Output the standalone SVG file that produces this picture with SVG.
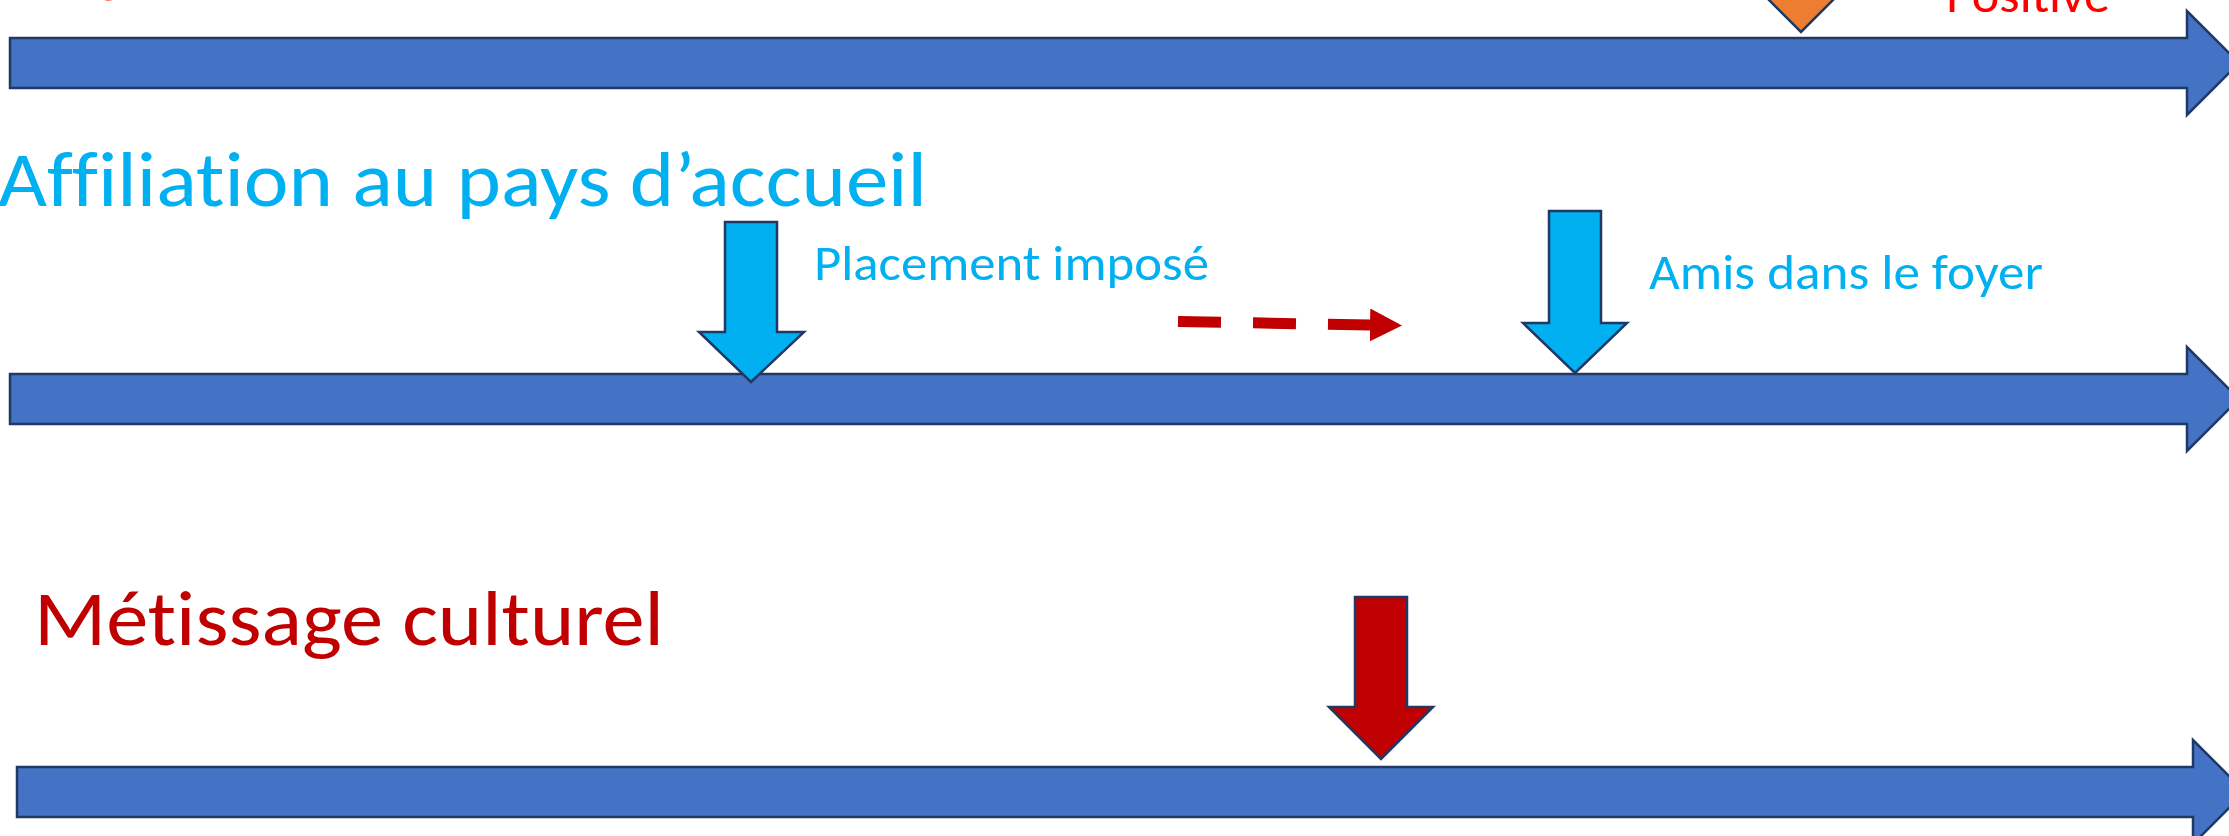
<svg xmlns="http://www.w3.org/2000/svg" width="2229" height="836" viewBox="0 0 2229 836">
  <style>
    .bar { fill: #4472C4; stroke: #1F3864; stroke-width: 2.5; stroke-linejoin: miter; }
    .down { stroke: #1F3864; stroke-width: 2.5; stroke-linejoin: miter; }
    .blue { fill: #00B0F0; }
    .dred { fill: #C00000; }
    .orange { fill: #ED7D31; }
    .txt { font-family: Calibri, Carlito, Lato, "Open Sans", sans-serif; font-variant-ligatures: none; font-feature-settings: "liga" 0, "clig" 0; }
    .big { font-size: 78px; }
    .lbl { font-size: 50px; }
  </style>
  <defs>
    <marker id="redhead" markerUnits="userSpaceOnUse" markerWidth="33" markerHeight="34" refX="0" refY="16.5" orient="auto">
      <path d="M0,0 L32,16.5 L0,33 Z" fill="#C00000"/>
    </marker>
  </defs>
  <rect width="2229" height="836" fill="#FFFFFF"/>

  <!-- partially visible texts at top edge (cut off in the reference too) -->
  <text class="txt" x="97" y="-8" font-size="52" fill="#FF0000">g</text>
  <text class="txt lbl" x="1946" y="12" fill="#FF0000" textLength="164" lengthAdjust="spacingAndGlyphs">Positive</text>

  <g id="bar-1">
    <path class="bar" d="M10,38 H2187 V11 L2239,63 L2187,115 V88 H10 Z"/>
  </g>
  <g id="arrow-orange">
    <polygon class="down orange" points="1775,-100 1827,-100 1827,-20 1853,-20 1801,32 1749,-20 1775,-20"/>
  </g>

  <g id="label-affiliation">
    <text class="txt big" x="-2" y="206" fill="#00B0F0" textLength="929" lengthAdjust="spacingAndGlyphs">Affiliation au pays d’accueil</text>
  </g>

  <g id="bar-2">
    <path class="bar" d="M10,374 H2187 V347 L2239,399 L2187,451 V424 H10 Z"/>
  </g>

  <g id="arrow-placement">
    <polygon class="down blue" points="725,222 777,222 777,332 804,332 751,382 699,332 725,332"/>
    <text class="txt lbl" x="814" y="280" fill="#00B0F0" textLength="395" lengthAdjust="spacingAndGlyphs">Placement imposé</text>
  </g>

  <g id="arrow-amis">
    <polygon class="down blue" points="1549,211 1601,211 1601,323 1627,323 1575,373 1523,323 1549,323"/>
    <text class="txt lbl" x="1649" y="289" fill="#00B0F0" textLength="394" lengthAdjust="spacingAndGlyphs">Amis dans le foyer</text>
  </g>

  <g id="connectors">
    <line x1="1178" y1="321.5" x2="1370" y2="325" stroke="#C00000" stroke-width="11" stroke-dasharray="43 32" marker-end="url(#redhead)"/>
  </g>

  <g id="label-metissage">
    <text class="txt big" x="34" y="645" fill="#C00000" textLength="630" lengthAdjust="spacingAndGlyphs">Métissage culturel</text>
  </g>

  <g id="bar-3">
    <path class="bar" d="M17,767 H2193 V740 L2245,792 L2193,844 V817 H17 Z"/>
  </g>

  <g id="arrow-metissage">
    <polygon class="down dred" points="1355,597 1407,597 1407,707 1433,707 1381,759 1329,707 1355,707"/>
  </g>
</svg>
